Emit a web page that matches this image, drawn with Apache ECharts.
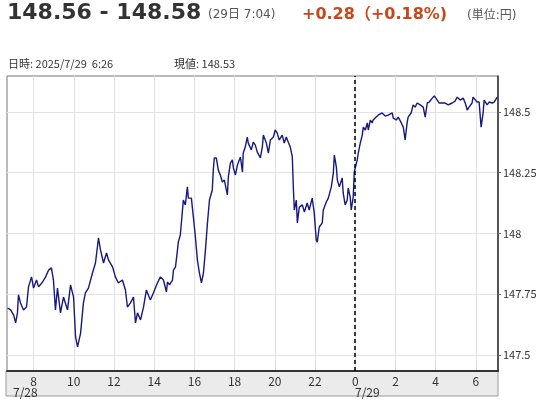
<!DOCTYPE html>
<html>
<head>
<meta charset="utf-8">
<script src="https://cdn.jsdelivr.net/npm/echarts@6/dist/echarts.min.js"></script>
<style>
  html, body { margin: 0; padding: 0; background: #fff; }
  #chart { width: 547px; height: 400px; }
</style>
</head>
<body>
<div id="chart"></div>
<script>
// hours since 7/28 0:00 (24 = 7/29 0:00)
const hours = [
  6.71, 6.86, 7.01, 7.11, 7.20, 7.25, 7.35, 7.50, 7.65, 7.75, 7.90, 8.00, 8.15, 8.25, 8.45, 8.60, 8.75, 8.89, 8.99,
  9.09, 9.19, 9.34, 9.49, 9.69, 9.84, 9.99, 10.09, 10.19, 10.34, 10.48, 10.58, 10.73, 10.93, 11.08, 11.23, 11.33,
  11.48, 11.63, 11.73, 11.93, 12.07, 12.22, 12.42, 12.57, 12.67, 12.82, 12.97, 13.07, 13.17, 13.32, 13.47, 13.61,
  13.81, 13.96, 14.16, 14.31, 14.46, 14.61, 14.66, 14.76, 14.91, 14.96, 15.06, 15.16, 15.20, 15.30, 15.40, 15.45,
  15.55, 15.65, 15.70, 15.85, 15.95, 16.05, 16.15, 16.25, 16.35, 16.45, 16.55, 16.65, 16.75, 16.89, 16.94, 16.99,
  17.09, 17.19, 17.29, 17.39, 17.49, 17.64, 17.69, 17.79, 17.89, 17.94, 18.04, 18.14, 18.29, 18.39, 18.43, 18.53,
  18.63, 18.68, 18.83, 18.93, 19.03, 19.13, 19.28, 19.38, 19.43, 19.58, 19.68, 19.78, 19.93, 20.02, 20.12, 20.22,
  20.37, 20.47, 20.57, 20.67, 20.77, 20.87, 20.92, 20.97, 21.07, 21.12, 21.22, 21.37, 21.47, 21.61, 21.71, 21.86,
  21.96, 22.06, 22.11, 22.21, 22.36, 22.41, 22.56, 22.66, 22.81, 22.91, 22.96, 23.06, 23.11, 23.21, 23.35, 23.40,
  23.50, 23.60, 23.65, 23.75, 23.80, 23.90, 23.95, 24.00, 24.10, 24.15, 24.25, 24.35, 24.40, 24.50, 24.60, 24.65,
  24.75, 24.84, 24.89, 25.04, 25.14, 25.34, 25.49, 25.64, 25.84, 25.89, 26.04, 26.14, 26.29, 26.39, 26.48, 26.58,
  26.63, 26.78, 26.88, 26.98, 27.08, 27.23, 27.38, 27.48, 27.58, 27.68, 27.83, 27.93, 28.08, 28.17, 28.32, 28.47,
  28.62, 28.82, 28.97, 29.07, 29.22, 29.37, 29.47, 29.57, 29.66, 29.81, 29.86, 30.06, 30.16, 30.26, 30.36, 30.41,
  30.56, 30.66, 30.81, 30.91, 31.06
];
const rates = [
  147.693, 147.685, 147.664, 147.632, 147.673, 147.747, 147.714, 147.685, 147.697, 147.780, 147.821, 147.775, 147.808, 147.780, 147.800, 147.821, 147.849, 147.858, 147.808,
  147.685, 147.775, 147.673, 147.738, 147.685, 147.788, 147.738, 147.574, 147.533, 147.590, 147.714, 147.755, 147.775, 147.837, 147.878, 147.981, 147.932,
  147.878, 147.919, 147.890, 147.862, 147.821, 147.796, 147.808, 147.767, 147.697, 147.714, 147.738, 147.632, 147.673, 147.644, 147.697, 147.767,
  147.726, 147.755, 147.796, 147.821, 147.808, 147.759, 147.800, 147.788, 147.808, 147.849, 147.862, 147.932, 147.964, 147.993, 148.088, 148.137,
  148.117, 148.191, 148.145, 148.145, 148.067, 147.985, 147.890, 147.837, 147.796, 147.837, 147.932, 148.043, 148.137, 148.178, 148.260, 148.310,
  148.310, 148.260, 148.240, 148.211, 148.219, 148.158, 148.232, 148.289, 148.302, 148.269, 148.240, 148.281, 148.314, 148.252, 148.330, 148.355,
  148.396, 148.371, 148.343, 148.375, 148.363, 148.334, 148.310, 148.355, 148.404, 148.371, 148.330, 148.384, 148.396, 148.425, 148.412, 148.384,
  148.404, 148.371, 148.396, 148.375, 148.355, 148.314, 148.191, 148.096, 148.137, 148.043, 148.108, 148.117, 148.088, 148.125, 148.096, 148.145,
  148.084, 147.973, 147.964, 148.026, 148.043, 148.096, 148.129, 148.145, 148.191, 148.248, 148.322, 148.273, 148.219, 148.191, 148.228, 148.166,
  148.117, 148.137, 148.186, 148.149, 148.096, 148.149, 148.252, 148.269, 148.302, 148.330, 148.371, 148.404, 148.437, 148.425, 148.454, 148.425,
  148.466, 148.454, 148.466, 148.478, 148.486, 148.495, 148.482, 148.486, 148.495, 148.474, 148.466, 148.478, 148.454, 148.437, 148.384, 148.454,
  148.478, 148.495, 148.528, 148.519, 148.536, 148.528, 148.519, 148.478, 148.536, 148.540, 148.556, 148.565, 148.548, 148.536, 148.536, 148.536,
  148.528, 148.536, 148.544, 148.560, 148.548, 148.556, 148.536, 148.507, 148.519, 148.536, 148.560, 148.540, 148.540, 148.437, 148.495, 148.548,
  148.528, 148.540, 148.536, 148.540, 148.560
];
const xTicks = [8, 10, 12, 14, 16, 18, 20, 22, 24, 26, 28, 30];
const yTicks = [147.5, 147.75, 148, 148.25, 148.5];
const dayBreak = 24;

const chart = echarts.init(document.getElementById('chart'));

const option = {
    animation: false,
    backgroundColor: '#fff',
    grid: {
        left: 7,
        top: 76,
        right: 49,
        bottom: 29,
        show: true,
        borderColor: '#777',
        borderWidth: 1
    },
    xAxis: {
        type: 'value',
        min: 6.68,
        max: 31.1,
        axisLine: { show: true, onZero: false, lineStyle: { color: '#333', width: 2 } },
        axisTick: { show: false, customValues: xTicks },
        axisLabel: {
            customValues: xTicks,
            margin: 4,
            color: '#333',
            fontSize: 12,
            fontFamily: 'Noto Sans CJK JP',
            formatter: v => String(Math.round(v) % 24)
        },
        splitLine: { show: true, lineStyle: { color: '#e2e2e2', width: 1 } }
    },
    yAxis: {
        type: 'value',
        position: 'right',
        min: 147.434,
        max: 148.647,
        axisLine: { show: true, lineStyle: { color: '#333', width: 1.5 } },
        axisTick: { show: true, length: 3, customValues: yTicks, lineStyle: { color: '#666' } },
        axisLabel: {
            customValues: yTicks,
            margin: 5,
            color: '#333',
            fontSize: 11,
            fontFamily: 'Noto Sans CJK JP'
        },
        splitLine: { show: true, lineStyle: { color: '#e2e2e2', width: 1 } }
    },
    series: [{
        type: 'line',
        data: hours.map((h, i) => [h, rates[i]]),
        showSymbol: false,
        lineStyle: { color: '#18187f', width: 1.4 },
        markLine: {
            silent: true,
            symbol: 'none',
            label: { show: false },
            lineStyle: { color: '#000', type: [4, 3], width: 1.5 },
            data: [{ xAxis: dayBreak }]
        }
    }],
    graphic: [
        // x axis band
        { type: 'rect', z: -10, shape: { x: 6, y: 371, width: 492, height: 25 },
          style: { fill: '#ebebeb', stroke: '#9a9a9a', lineWidth: 1 } },
        { type: 'text', left: 13, top: 386,
          style: { text: '7/28', fill: '#333', font: '12px "Noto Sans CJK JP"' } },
        { type: 'text', left: 355, top: 386,
          style: { text: '7/29', fill: '#333', font: '12px "Noto Sans CJK JP"' } },
        // header
        { type: 'text', left: 7, top: 2,
          style: { text: '148.56 - 148.58', fill: '#333', font: 'bold 22px "DejaVu Sans", "Noto Sans CJK JP"' } },
        { type: 'text', left: 208, top: 9,
          style: { text: '(29日 7:04)', fill: '#555', font: '12px "DejaVu Sans", "Noto Sans CJK JP"' } },
        { type: 'text', left: 302, top: 7,
          style: { text: '+0.28（+0.18%)', fill: '#c8471b', font: 'bold 16px "DejaVu Sans", "Noto Sans CJK JP"' } },
        { type: 'text', left: 467, top: 10,
          style: { text: '(単位:円)', fill: '#555', font: '12px "DejaVu Sans", "Noto Sans CJK JP"' } },
        { type: 'text', left: 8, top: 58,
          style: { text: '日時: 2025/7/29  6:26', fill: '#333', font: '11px "Noto Sans CJK JP"' } },
        { type: 'text', left: 174, top: 58,
          style: { text: '現値: 148.53', fill: '#333', font: '11px "Noto Sans CJK JP"' } }
    ]
};

chart.setOption(option);

window.addEventListener('resize', function() {
    chart.resize();
});
</script>
</body>
</html>
